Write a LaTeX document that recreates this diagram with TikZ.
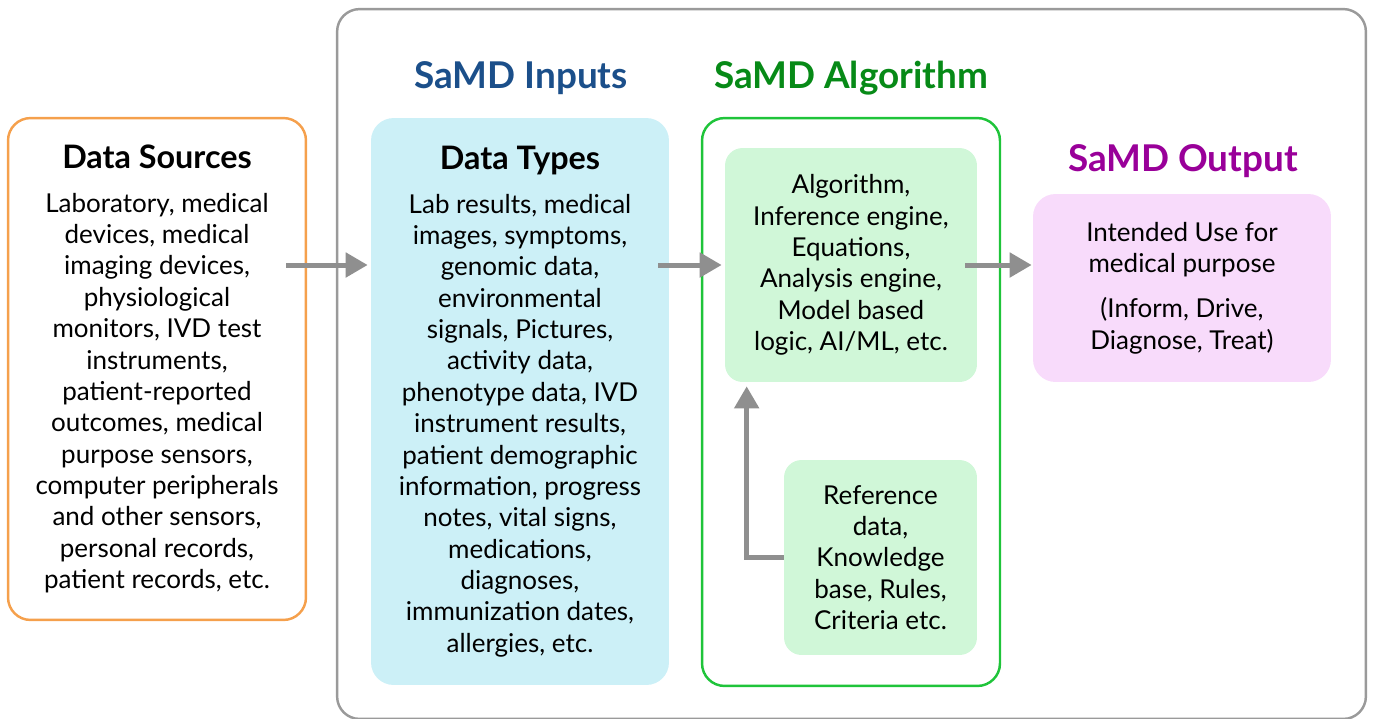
\documentclass[tikz,border=0pt]{standalone}
\usepackage{fontspec}
\setmainfont{Lato}
\usepackage{xcolor}
\usepackage{tikz}
\usetikzlibrary{arrows.meta,positioning,calc}
\definecolor{srcorange}{HTML}{F5A04C}
\definecolor{framegray}{HTML}{9A9A9A}
\definecolor{arrgray}{HTML}{8F8F8F}
\definecolor{typecyan}{HTML}{CCF0F7}
\definecolor{algfill}{HTML}{D0F7D8}
\definecolor{algline}{HTML}{1FC43A}
\definecolor{outpink}{HTML}{F8DBFB}
\definecolor{inblue}{HTML}{1B4F8A}
\definecolor{alggreen}{HTML}{078A17}
\definecolor{outpurple}{HTML}{990099}

\begin{document}
\begin{tikzpicture}[
    x=0.02cm, y=-0.02cm,
    font=\fontsize{14.8}{17.85}\selectfont,
    box/.style={rounded corners=0.45cm,align=center,inner sep=0pt},
    head/.style={font=\fontsize{21}{24}\selectfont\bfseries},
    arr/.style={-{Triangle[width=0.48cm,length=0.44cm]},line width=0.1cm,draw=arrgray}
  ]
    \useasboundingbox (0,0) rectangle (1373,718);
    \node[box,draw=framegray,line width=1.4pt,minimum width=20.58cm,minimum height=14.2cm] (samd) at (851.5,364) {};

    \node[box,draw=srcorange,line width=1.4pt,minimum width=5.96cm,minimum height=10.04cm] (src) at (157,369)
      {{\fontsize{18.4}{20}\selectfont\bfseries Data Sources}\\[7pt]
       Laboratory, medical\\devices, medical\\imaging devices,\\physiological\\monitors, IVD test\\instruments,\\
       patient-reported\\outcomes, medical\\purpose sensors,\\computer peripherals\\and other sensors,\\
       personal records,\\patient records, etc.};
    \node[box,fill=typecyan,minimum width=5.96cm,minimum height=11.34cm] (types) at (520,401.5)
      {{\fontsize{18.4}{20}\selectfont\bfseries Data Types}\\[7pt]
       Lab results, medical\\images, symptoms,\\genomic data,\\environmental\\signals, Pictures,\\activity data,\\
       phenotype data, IVD\\instrument results,\\patient demographic\\information, progress\\notes, vital signs,\\
       medications,\\diagnoses,\\immunization dates,\\allergies, etc.};
    \node[box,draw=algline,line width=1.4pt,minimum width=5.96cm,minimum height=11.36cm] (algframe) at (851,402) {};
    \node[box,fill=algfill,rounded corners=0.35cm,minimum width=5.04cm,minimum height=4.68cm] (alg) at (851,265)
      {Algorithm,\\Inference engine,\\Equations,\\Analysis engine,\\Model based\\logic, AI/ML, etc.};
    \node[box,fill=algfill,rounded corners=0.35cm,minimum width=3.86cm,minimum height=3.9cm] (ref) at (880.5,557.5)
      {Reference\\data,\\Knowledge\\base, Rules,\\Criteria etc.};
    \node[box,fill=outpink,rounded corners=0.45cm,minimum width=5.96cm,minimum height=3.76cm] (out) at (1182,288)
      {Intended Use for\\medical purpose\\[8pt](Inform, Drive,\\Diagnose, Treat)};

    \node[head,text=inblue] (inhead) at (521,78) {SaMD Inputs};
    \node[head,text=alggreen] (alghead) at (851,78) {SaMD Algorithm};
    \node[head,text=outpurple] (outhead) at (1183,161) {SaMD Output};

    \draw[arr,shorten >=0.06cm] ($(src.east |- alg.west)+(-21,0)$) -- (types.west |- alg.west);
    \draw[arr,shorten >=0.06cm] ($(types.east |- alg.west)+(-11,0)$) -- (alg.west);
    \draw[arr,shorten >=0.02cm] ($(alg.east)+(-12,0)$) -- (out.west |- alg.east);
    \draw[arr,shorten >=0.08cm] (ref.west) -| ($(alg.south west)+(22,0)$);
  \end{tikzpicture}
\end{document}
